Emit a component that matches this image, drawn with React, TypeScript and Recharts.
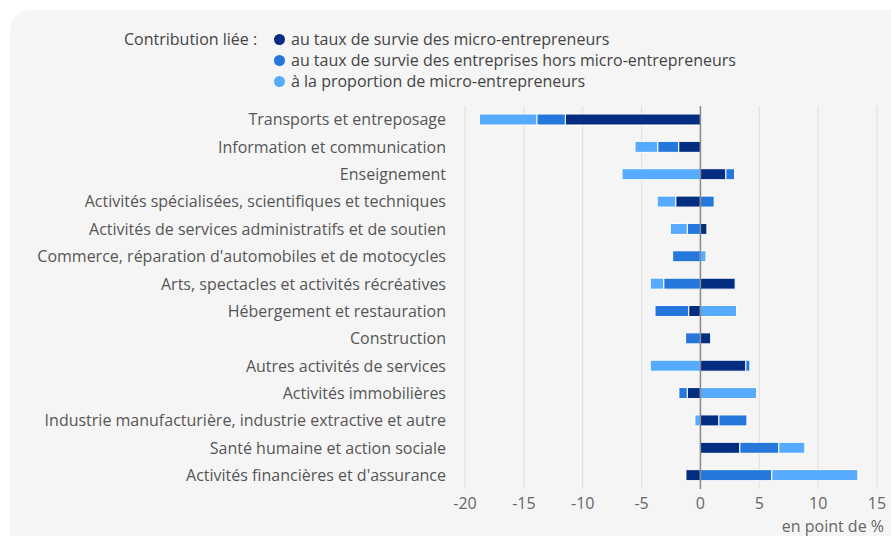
import React from 'react';
import {
  BarChart,
  Bar,
  XAxis,
  YAxis,
  CartesianGrid,
  ReferenceLine,
} from 'recharts';

// secteurs, du haut vers le bas
const categories = [
  'Transports et entreposage',
  'Information et communication',
  'Enseignement',
  'Activités spécialisées, scientifiques et techniques',
  'Activités de services administratifs et de soutien',
  "Commerce, réparation d'automobiles et de motocycles",
  'Arts, spectacles et activités récréatives',
  'Hébergement et restauration',
  'Construction',
  'Autres activités de services',
  'Activités immobilières',
  'Industrie manufacturière, industrie extractive et autre',
  'Santé humaine et action sociale',
  "Activités financières et d'assurance",
];

// contributions en point de %
const survieMicro = [-11.48, -1.85, 2.16, -2.1, 0.55, 0, 2.95, -1.0, 0.87, 3.86, -1.12, 1.57, 3.35, -1.23];
const survieHors = [-2.42, -1.78, 0.74, 1.17, -1.12, -2.36, -3.12, -2.86, -1.26, 0.34, -0.71, 2.38, 3.31, 6.07];
const proportionMicro = [-4.88, -1.93, -6.66, -1.57, -1.44, 0.47, -1.14, 3.07, 0, -4.26, 4.77, -0.47, 2.21, 7.3];

const xTicks = [-20, -15, -10, -5, 0, 5, 10, 15];

const legendItems = [
  { label: 'au taux de survie des micro-entrepreneurs', color: '#032d80' },
  { label: 'au taux de survie des entreprises hors micro-entrepreneurs', color: '#2577dc' },
  { label: 'à la proportion de micro-entrepreneurs', color: '#56aaff' },
];

const data = categories.map((name, i) => ({
  name,
  survieMicro: survieMicro[i],
  survieHors: survieHors[i],
  proportionMicro: proportionMicro[i],
}));

const FONT = '"Open Sans", sans-serif';

export default function App() {
  return (
    <div
      style={{
        position: 'absolute',
        left: 0,
        top: 0,
        width: 891,
        height: 536,
        overflow: 'hidden',
        background: '#ffffff',
        fontFamily: FONT,
      }}
    >
      <div
        style={{
          position: 'absolute',
          left: 10,
          top: 10,
          width: 920,
          height: 560,
          borderRadius: 20,
          background: '#f5f5f5',
        }}
      />

      <div style={{ position: 'absolute', left: 124, top: 29, fontSize: 16, color: '#444', lineHeight: '21px' }}>
        <div style={{ position: 'absolute', left: 0, top: 0, whiteSpace: 'nowrap' }}>Contribution liée :</div>
        {legendItems.map((item, i) => (
          <div
            key={item.label}
            style={{ position: 'absolute', left: 150, top: i * 21, whiteSpace: 'nowrap', display: 'flex', alignItems: 'center' }}
          >
            <span
              style={{
                display: 'inline-block',
                width: 11,
                height: 11,
                borderRadius: '50%',
                background: item.color,
                marginRight: 6,
              }}
            />
            {item.label}
          </div>
        ))}
      </div>

      <div style={{ position: 'absolute', left: 0, top: 0 }}>
        <BarChart
          width={891}
          height={536}
          data={data}
          layout="vertical"
          stackOffset="sign"
          barSize={11}
          margin={{ top: 106, right: 14, bottom: 0, left: 0 }}
        >
          <CartesianGrid horizontal={false} stroke="#dedede" />
          <XAxis
            type="number"
            domain={[-20, 15]}
            ticks={xTicks}
            allowDataOverflow
            axisLine={false}
            tickLine={false}
            tickSize={0}
            tickMargin={9}
            height={47}
            tick={{ fill: '#666', fontSize: 16, fontFamily: FONT }}
          />
          <YAxis
            type="category"
            dataKey="name"
            width={465}
            axisLine={false}
            tickLine={false}
            tickSize={0}
            tickMargin={19}
            interval={0}
            tick={{ fill: '#555', fontSize: 16, fontFamily: FONT }}
          />
          <Bar dataKey="survieMicro" stackId="a" fill="#032d80" stroke="#ffffff" strokeWidth={1} isAnimationActive={false} />
          <Bar dataKey="survieHors" stackId="a" fill="#2577dc" stroke="#ffffff" strokeWidth={1} isAnimationActive={false} />
          <Bar dataKey="proportionMicro" stackId="a" fill="#56aaff" stroke="#ffffff" strokeWidth={1} isAnimationActive={false} />
          <ReferenceLine x={0} stroke="#888" strokeWidth={1.5} />
        </BarChart>
      </div>

      <div
        style={{
          position: 'absolute',
          right: 7,
          top: 517,
          fontSize: 16,
          color: '#666',
          lineHeight: '18px',
          whiteSpace: 'nowrap',
        }}
      >
        en point de %
      </div>
    </div>
  );
}
